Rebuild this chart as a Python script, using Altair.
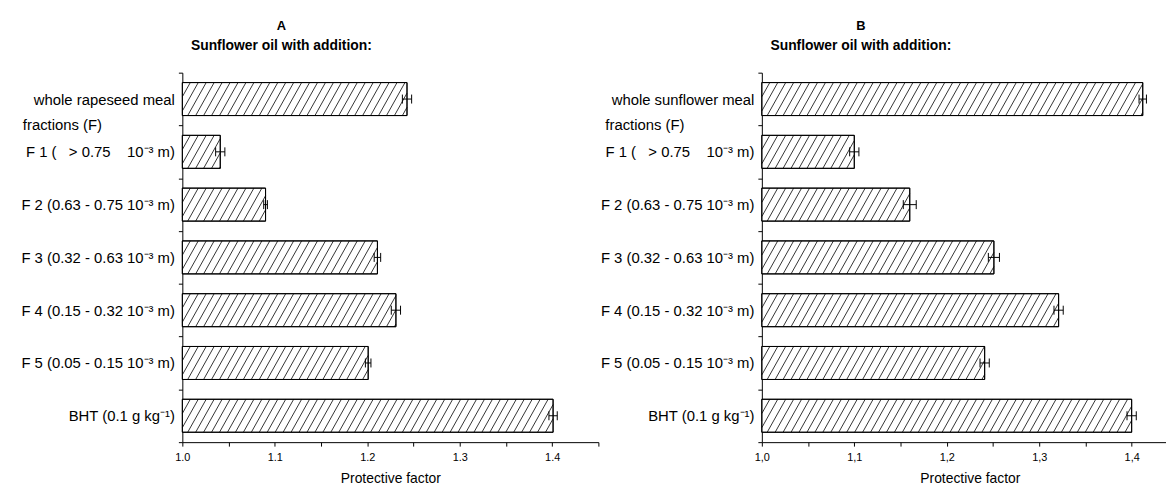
import json
import altair as alt
import pandas as pd

NB = "\u00a0"
SUP3 = "10\u207b\u00b3"

labels_a = [
    "whole rapeseed meal",
    f"F 1 ({NB}{NB}{NB}> 0.75{NB}{NB}{NB}{NB}{SUP3} m)",
    f"F 2 (0.63 - 0.75 {SUP3} m)",
    f"F 3 (0.32 - 0.63 {SUP3} m)",
    f"F 4 (0.15 - 0.32 {SUP3} m)",
    f"F 5 (0.05 - 0.15 {SUP3} m)",
    "BHT (0.1 g kg\u207b\u00b9)",
]
labels_b = ["whole sunflower meal"] + labels_a[1:]

values_a = [1.243, 1.041, 1.090, 1.211, 1.231, 1.201, 1.401]
errors_a = [0.005, 0.005, 0.002, 0.0035, 0.005, 0.003, 0.0045]
values_b = [1.412, 1.100, 1.160, 1.251, 1.321, 1.241, 1.400]
errors_b = [0.004, 0.005, 0.007, 0.006, 0.005, 0.005, 0.005]

group_label = "fractions (F)"
subtitle = "Sunflower oil with addition:"
x_title = "Protective factor"
x_ticks = [1.0, 1.05, 1.1, 1.15, 1.2, 1.25, 1.3, 1.35, 1.4, 1.45]

FONT = "Liberation Sans"
BAR_FRAC = 0.3125      # half of bar thickness in band units
HATCH_STEP = 0.0086    # horizontal spacing of hatch lines (x units)
HATCH_RUN = 0.020      # horizontal run of one hatch line across the bar


def panel(letter, labels, values, errors, xmax, width, extent, frac_x, decimal):
    n = len(labels)
    rows = []
    hatch = []
    for i, (lab, v, e) in enumerate(zip(labels, values, errors)):
        mid = i + 0.5
        top, bot = mid - BAR_FRAC, mid + BAR_FRAC
        rows.append(dict(label=lab, value=v, base=1.0, top=top, bot=bot, mid=mid,
                         lo=v - e, hi=v + e, ct=mid - 0.085, cb=mid + 0.085))
        xb = 1.0 - HATCH_RUN
        while xb < v:
            u0 = max(0.0, (1.0 - xb) / HATCH_RUN)
            u1 = min(1.0, (v - xb) / HATCH_RUN)
            if u1 > u0:
                hatch.append(dict(hx1=xb + u0 * HATCH_RUN, hy1=bot - u0 * (bot - top),
                                  hx2=xb + u1 * HATCH_RUN, hy2=bot - u1 * (bot - top)))
            xb += HATCH_STEP
    df = pd.DataFrame(rows)
    hdf = pd.DataFrame(hatch)

    yscale = alt.Scale(domain=[0, n], reverse=True, nice=False, zero=False)
    xscale = alt.Scale(domain=[1.0, xmax], nice=False, zero=False)
    yvals = [k * 0.5 for k in range(2 * n + 1)]
    lab_expr = ("datum.value % 1 == 0.5 ? " + json.dumps(labels, ensure_ascii=False)
                + "[floor(datum.value)] : ''")
    yaxis = alt.Axis(values=yvals, labelExpr=lab_expr, title=None, grid=False,
                     domainColor="black", tickColor="black", tickSize=4,
                     tickOpacity={"condition": {"test": "datum.value % 1 == 0.5", "value": 0}, "value": 1},
                     labelFont=FONT, labelFontSize=15, labelColor="black", labelPadding=4,
                     labelLimit=400, labelOverlap=False, labelFlush=False,
                     minExtent=extent, maxExtent=extent)
    if decimal == ",":
        fmt = "replace(format(datum.value, '.1f'), '.', ',')"
    else:
        fmt = "format(datum.value, '.1f')"
    xaxis = alt.Axis(values=[t for t in x_ticks if t <= xmax + 1e-9],
                     labelExpr=f"round(datum.value * 100) % 10 == 0 ? {fmt} : ''",
                     title=x_title, titleFont=FONT, titleFontSize=14, titleFontWeight="normal",
                     titleColor="black", titleX=210, titlePadding=9,
                     grid=False, domainColor="black", tickColor="black", tickSize=4,
                     labelFont=FONT, labelFontSize=11, labelColor="black", labelPadding=6,
                     labelOverlap=False, labelFlush=False)

    def X(f):
        return alt.X(f, type="quantitative", scale=xscale, axis=xaxis)

    def Y(f):
        return alt.Y(f, type="quantitative", scale=yscale, axis=yaxis)

    bars = alt.Chart(df).mark_bar(fill="white", stroke="black", strokeWidth=1).encode(
        x=X("base"), x2="value", y=Y("top"), y2="bot")
    lines = alt.Chart(hdf).mark_rule(color="black", strokeWidth=0.8).encode(
        x=X("hx1"), x2="hx2", y=Y("hy1"), y2="hy2")
    outline = alt.Chart(df).mark_bar(fill=None, stroke="black", strokeWidth=1).encode(
        x=X("base"), x2="value", y=Y("top"), y2="bot")
    ebar = alt.Chart(df).mark_rule(color="black", strokeWidth=1).encode(
        x=X("lo"), x2="hi", y=Y("mid"))
    cap_lo = alt.Chart(df).mark_rule(color="black", strokeWidth=1).encode(
        x=X("lo"), y=Y("ct"), y2="cb")
    cap_hi = alt.Chart(df).mark_rule(color="black", strokeWidth=1).encode(
        x=X("hi"), y=Y("ct"), y2="cb")
    frac = alt.Chart(pd.DataFrame({"t": [group_label], "p": [1.0]})).mark_text(
        align="left", baseline="middle", font=FONT, fontSize=15, color="black").encode(
        x=alt.value(frac_x), y=Y("p"), text="t:N")

    return alt.layer(bars, lines, outline, ebar, cap_lo, cap_hi, frac).properties(
        width=width, height=373,
        title=alt.TitleParams(text=letter, subtitle=subtitle, anchor="start", frame="group",
                              align="center", dx=100, font=FONT, fontSize=13, fontWeight="bold",
                              color="black", subtitleFont=FONT, subtitleFontSize=14,
                              subtitleFontWeight="bold", subtitleColor="black",
                              subtitlePadding=6, offset=13))


pa = panel("A", labels_a, values_a, errors_a, 1.45, 420, 176, -161, ".")
pb = panel("B", labels_b, values_b, errors_b, 1.0 + 408 / 933.3, 408, 161, -158, ",")

chart = alt.hconcat(pa, pb, spacing=0).properties(
    padding={"left": 0, "top": 10, "right": 0, "bottom": 0},
    background="white",
).configure_view(stroke=None)

chart.save("out.html", embed_options={"renderer": "svg", "actions": False})
